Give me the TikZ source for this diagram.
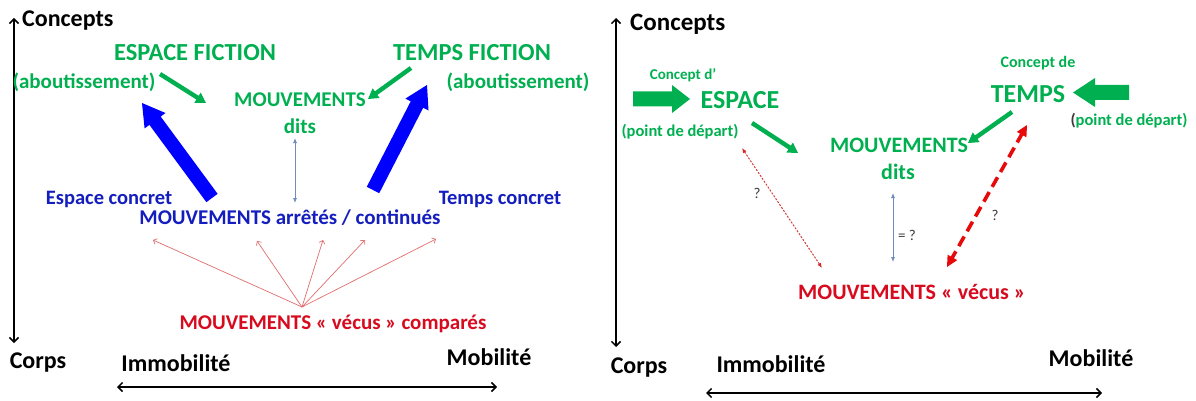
\documentclass[tikz,border=0pt]{standalone}
\usepackage{fontspec}
\setmainfont{Carlito}
\usetikzlibrary{calc,arrows.meta}
\definecolor{gr}{RGB}{0,176,80}
\definecolor{bl}{RGB}{20,30,190}
\definecolor{fblue}{RGB}{0,0,255}
\definecolor{rd}{RGB}{215,10,30}
\definecolor{lred}{RGB}{225,110,110}
\definecolor{dred}{RGB}{210,40,40}
\definecolor{tred}{RGB}{230,10,10}
\definecolor{sblue}{RGB}{110,140,190}
\definecolor{qgray}{RGB}{60,60,60}
% #1 style, #2 tail, #3 tip, #4 half shaft, #5 half head, #6 head length
\newcommand\fatarrow[6]{%
  \coordinate (fab) at ($(#3)!#6!(#2)$);
  \fill[#1] ($(#2)!#4!90:(#3)$) -- ($(fab)!#4!-90:(#2)$) -- ($(fab)!#5!-90:(#2)$) -- (#3)
    -- ($(fab)!#5!90:(#2)$) -- ($(fab)!#4!90:(#2)$) -- ($(#2)!#4!-90:(#3)$) -- cycle;}
% #1 style, #2 from, #3 tip, #4 half width, #5 length
\newcommand\headtri[5]{%
  \coordinate (htb) at ($(#3)!#5!(#2)$);
  \fill[#1] (#3) -- ($(htb)!#4!90:(#3)$) -- ($(htb)!#4!-90:(#3)$) -- cycle;}
\begin{document}
\begin{tikzpicture}[x=1pt,y=-1pt,
  fs/.style={inner sep=0pt,anchor=base,font=\bfseries\fontsize{#1}{#1}\selectfont},
  qs/.style={inner sep=0pt,anchor=base,text=qgray,font=\fontsize{15}{15}\selectfont},
  axis/.style={line width=1.5pt,{Straight Barb[length=4.5pt,width=9pt]}-{Straight Barb[length=4.5pt,width=9pt]}},
  redthin/.style={lred,line width=0.7pt,-{Straight Barb[length=3pt,width=6pt]}},
  bluethin/.style={sblue,line width=0.8pt,{Latex[length=5pt,width=4pt]}-{Latex[length=5pt,width=4pt]}},
  reddash/.style={dred,line width=0.9pt,dash pattern=on 2pt off 1.5pt,{Latex[length=5pt,width=4pt]}-{Latex[length=5pt,width=4pt]}}]
\useasboundingbox[fill=white] (0,0) rectangle (1196,401);

% ---------------- LEFT PANEL ----------------
\coordinate (axLt) at (14,18);
\coordinate (axLb) at (14,343);
\draw[axis] (axLb) -- (axLt);
\coordinate (hxL1) at (117,387);
\coordinate (hxL2) at (497,387);
\draw[axis] (hxL1) -- (hxL2);

\node[fs=24,anchor=base west] (concL) at (22,27) {Concepts};
\node[fs=24.5,text=gr] (efic) at (195,61) {ESPACE FICTION};
\node[fs=21,text=gr] (abL) at (84,89) {(aboutissement)};
\node[fs=21,text=gr] (mdL) at (300,107) {MOUVEMENTS};
\node[fs=21,text=gr] (ditsL) at (300,134) {dits};
\node[fs=24.5,text=gr] (tfic) at (472,61) {TEMPS FICTION};
\node[fs=21,text=gr] (abR) at (518,89) {(aboutissement)};
\node[fs=20.5,text=bl] (ec) at (109,204) {Espace concret};
\node[fs=20.5,text=bl] (tc) at (500,204) {Temps concret};
\node[fs=21,text=bl] (mac) at (290,224) {MOUVEMENTS arrêtés / continués};
\node[fs=21,text=rd] (mvc) at (333,329) {MOUVEMENTS «~vécus~» comparés};
\node[fs=24] (corpsL) at (38,368) {Corps};
\node[fs=24] (immL) at (176,371) {Immobilité};
\node[fs=24] (mobL) at (489,365) {Mobilité};

% green arrows
\coordinate (g1a) at (160,74); \coordinate (g1b) at (206,103);
\fatarrow{gr}{g1a}{g1b}{2.2pt}{6pt}{10pt}
\coordinate (g2a) at (411,68); \coordinate (g2b) at (368,99);
\fatarrow{gr}{g2a}{g2b}{2.2pt}{6pt}{10pt}
% blue fat arrows
\coordinate (b1a) at (212,198); \coordinate (b1b) at (142,103);
\fatarrow{fblue}{b1a}{b1b}{7pt}{13pt}{22pt}
\coordinate (b2a) at (373,190); \coordinate (b2b) at (427,85);
\fatarrow{fblue}{b2a}{b2b}{7pt}{13pt}{22pt}
% thin blue
\coordinate (tb1) at (295,138); \coordinate (tb2) at (295,203);
\draw[bluethin] (tb2) -- (tb1);
% red thin arrows
\coordinate (ro) at (302,307);
\coordinate (r1) at (153,240);
\coordinate (r2) at (257,241);
\coordinate (r3) at (323,240);
\coordinate (r4) at (365,240);
\coordinate (r5) at (436,239);
\foreach \t in {r1,r2,r3,r4,r5} \draw[redthin] (ro) -- (\t);

% ---------------- RIGHT PANEL ----------------
\coordinate (axRt) at (616,18);
\coordinate (axRb) at (616,347);
\draw[axis] (axRb) -- (axRt);
\coordinate (hxR1) at (706,393);
\coordinate (hxR2) at (1102,393);
\draw[axis] (hxR1) -- (hxR2);

\node[fs=25,anchor=base west] (concR) at (630,31) {Concepts};
\node[fs=15,text=gr] (cdp) at (683,80) {Concept d’};
\node[fs=26,text=gr] (esp) at (740,109) {ESPACE};
\node[fs=16.5,text=gr] (pdL) at (680,136) {(point de départ)};
\node[fs=22,text=gr] (mdR) at (899,152) {MOUVEMENTS};
\node[fs=22,text=gr] (ditsR) at (898,179) {dits};
\node[fs=16,text=gr] (cde) at (1038,68) {Concept de};
\node[fs=26,text=gr] (tps) at (1028,103) {TEMPS};
\node[fs=16.5,text=gr] (pdR) at (1129,126) {\textcolor{qgray}{(}point de départ)};
\node[qs] (q1) at (757,198) {?};
\node[qs] (q2) at (907,240) {= ?};
\node[qs] (q3) at (995,220) {?};
\node[fs=22,text=rd] (mvR) at (912,299) {MOUVEMENTS «~vécus~»};
\node[fs=24] (corpsR) at (639,373) {Corps};
\node[fs=24] (immR) at (771,372) {Immobilité};
\node[fs=24] (mobR) at (1091,366) {Mobilité};

% big green arrows
\coordinate (G1a) at (633,99); \coordinate (G1b) at (690,99);
\fatarrow{gr}{G1a}{G1b}{7.5pt}{14pt}{18pt}
\coordinate (G2a) at (1129,92.5); \coordinate (G2b) at (1073,92.5);
\fatarrow{gr}{G2a}{G2b}{7.5pt}{14.5pt}{22pt}
% medium green arrows
\coordinate (g3a) at (752,123); \coordinate (g3b) at (798,153);
\fatarrow{gr}{g3a}{g3b}{2.2pt}{6pt}{10pt}
\coordinate (g4a) at (1012,112); \coordinate (g4b) at (968,143);
\fatarrow{gr}{g4a}{g4b}{2.2pt}{6pt}{10pt}
% thin red dashed
\coordinate (rd1) at (742,148); \coordinate (rd2) at (822,268);
\draw[reddash] (rd1) -- (rd2);
% thin blue double
\coordinate (tb3) at (893,193); \coordinate (tb4) at (893,262);
\draw[bluethin] (tb3) -- (tb4);
% thick red dashed double
\coordinate (RD1) at (1027,125); \coordinate (RD2) at (947,267);
\draw[tred,line width=3.6pt,dash pattern=on 11pt off 6pt]
  ($(RD1)!9pt!(RD2)$) -- ($(RD2)!9pt!(RD1)$);
\headtri{tred}{RD2}{RD1}{5.5pt}{11pt}
\headtri{tred}{RD1}{RD2}{5.5pt}{11pt}
\end{tikzpicture}
\end{document}
